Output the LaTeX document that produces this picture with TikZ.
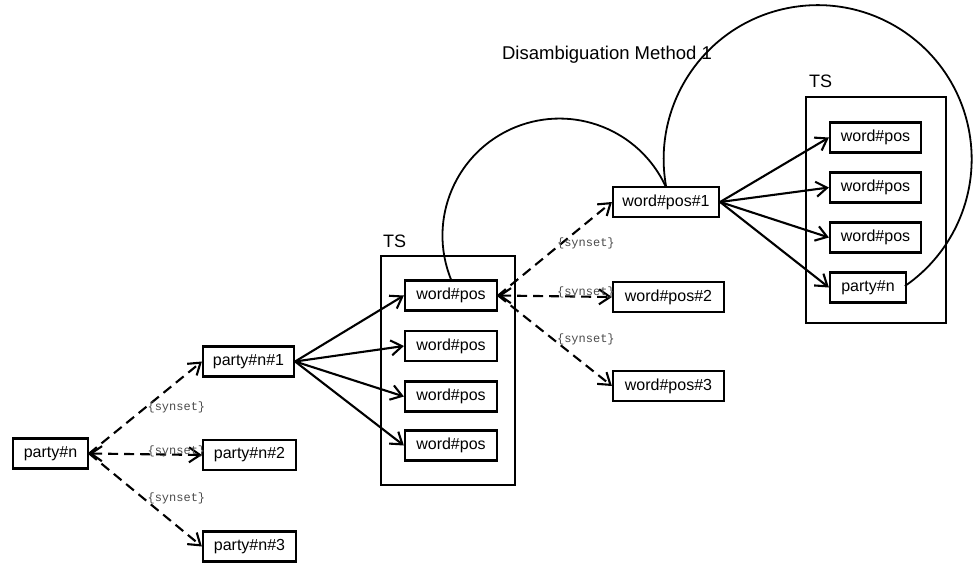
\documentclass[tikz,border=0pt]{standalone}
\usepackage{fontspec}
\setmainfont{Liberation Sans}
\newfontfamily\synfont{Liberation Mono}
\usetikzlibrary{arrows.meta}
\begin{document}
\begin{tikzpicture}[x=1pt,y=-1pt,
  box/.style={draw, line width=2.2pt, minimum height=30pt, inner sep=0pt,
    font=\fontsize{16}{18}\selectfont},
  container/.style={draw, line width=2.2pt, inner sep=0pt},
  tslabel/.style={anchor=base west, inner sep=0pt, font=\fontsize{18}{21}\selectfont},
  solidarrow/.style={line width=2.1pt, -{Straight Barb[length=11pt,width=15pt]}},
  syn/.style={line width=2.1pt, dash pattern=on 10pt off 6pt,
    -{Straight Barb[length=11pt,width=15pt]}},
  twoway/.style={{Straight Barb[length=11pt,width=15pt]}-{Straight Barb[length=11pt,width=15pt]}},
  lbl/.style={font=\synfont\fontsize{12}{14}\selectfont, text=black!70,
    anchor=west, inner sep=1pt},
  arcline/.style={line width=1.8pt}
]
\fill[white] (0,0) rectangle (973,564);
\useasboundingbox (0,0) rectangle (973,564);

% title
\node[anchor=base, inner sep=0pt, font=\fontsize{18.5}{22}\selectfont] (title) at (607,60) {Disambiguation Method 1};

% target-sense containers
\node[container, minimum width=134pt, minimum height=229pt] (ts1) at (448,370.5) {};
\node[container, minimum width=140pt, minimum height=226pt] (ts2) at (876,210) {};
\node[tslabel] (ts1lbl) at (383,247) {TS};
\node[tslabel] (ts2lbl) at (809,88) {TS};

% word and its senses
\node[box, minimum width=75pt] (pn)  at (50.5,453.5) {party\#n};
\node[box, minimum width=91pt] (pn1) at (248.5,361.5) {party\#n\#1};
\node[box, minimum width=93pt] (pn2) at (249.5,455) {party\#n\#2};
\node[box, minimum width=93pt] (pn3) at (249.5,546.5) {party\#n\#3};

% words of the first target sense
\node[box, minimum width=92pt] (a1) at (451,295.5) {word\#pos};
\node[box, minimum width=92pt] (a2) at (451,346) {word\#pos};
\node[box, minimum width=92pt] (a3) at (451,396.5) {word\#pos};
\node[box, minimum width=92pt] (a4) at (451,445.5) {word\#pos};

% senses of the selected word
\node[box, minimum width=106pt] (w1) at (666,202) {word\#pos\#1};
\node[box, minimum width=111pt] (w2) at (668.5,297) {word\#pos\#2};
\node[box, minimum width=111pt] (w3) at (668.5,386) {word\#pos\#3};

% words of the second target sense
\node[box, minimum width=91pt] (b1) at (875.5,137.5) {word\#pos};
\node[box, minimum width=91pt] (b2) at (875.5,187.5) {word\#pos};
\node[box, minimum width=91pt] (b3) at (875.5,237.5) {word\#pos};
\node[box, minimum width=76pt] (b4) at (868,287.5) {party\#n};

% synset links
\draw[syn] (pn.east) -- (pn1.west) node[lbl, pos=0.5] {\{synset\}};
\draw[syn, twoway] (pn.east) -- (pn2.west) node[lbl, pos=0.5, yshift=3pt] {\{synset\}};
\draw[syn] (pn.east) -- (pn3.west) node[lbl, pos=0.5, yshift=2pt] {\{synset\}};

\draw[syn] (a1.east) -- (w1.west) node[lbl, pos=0.5, yshift=5pt] {\{synset\}};
\draw[syn, twoway] (a1.east) -- (w2.west) node[lbl, pos=0.5, yshift=4pt] {\{synset\}};
\draw[syn] (a1.east) -- (w3.west) node[lbl, pos=0.5, yshift=1pt] {\{synset\}};

% target-sense members
\foreach \t in {a1,a2,a3,a4} \draw[solidarrow] (pn1.east) -- (\t.west);
\foreach \t in {b1,b2,b3,b4} \draw[solidarrow] (w1.east) -- (\t.west);

% disambiguation loops
\draw[arcline] (a1.north) arc[start angle=158, end angle=335, radius=117];
\draw[arcline] (w1.north) arc[start angle=170, end angle=415.5, radius=154];
\end{tikzpicture}
\end{document}
